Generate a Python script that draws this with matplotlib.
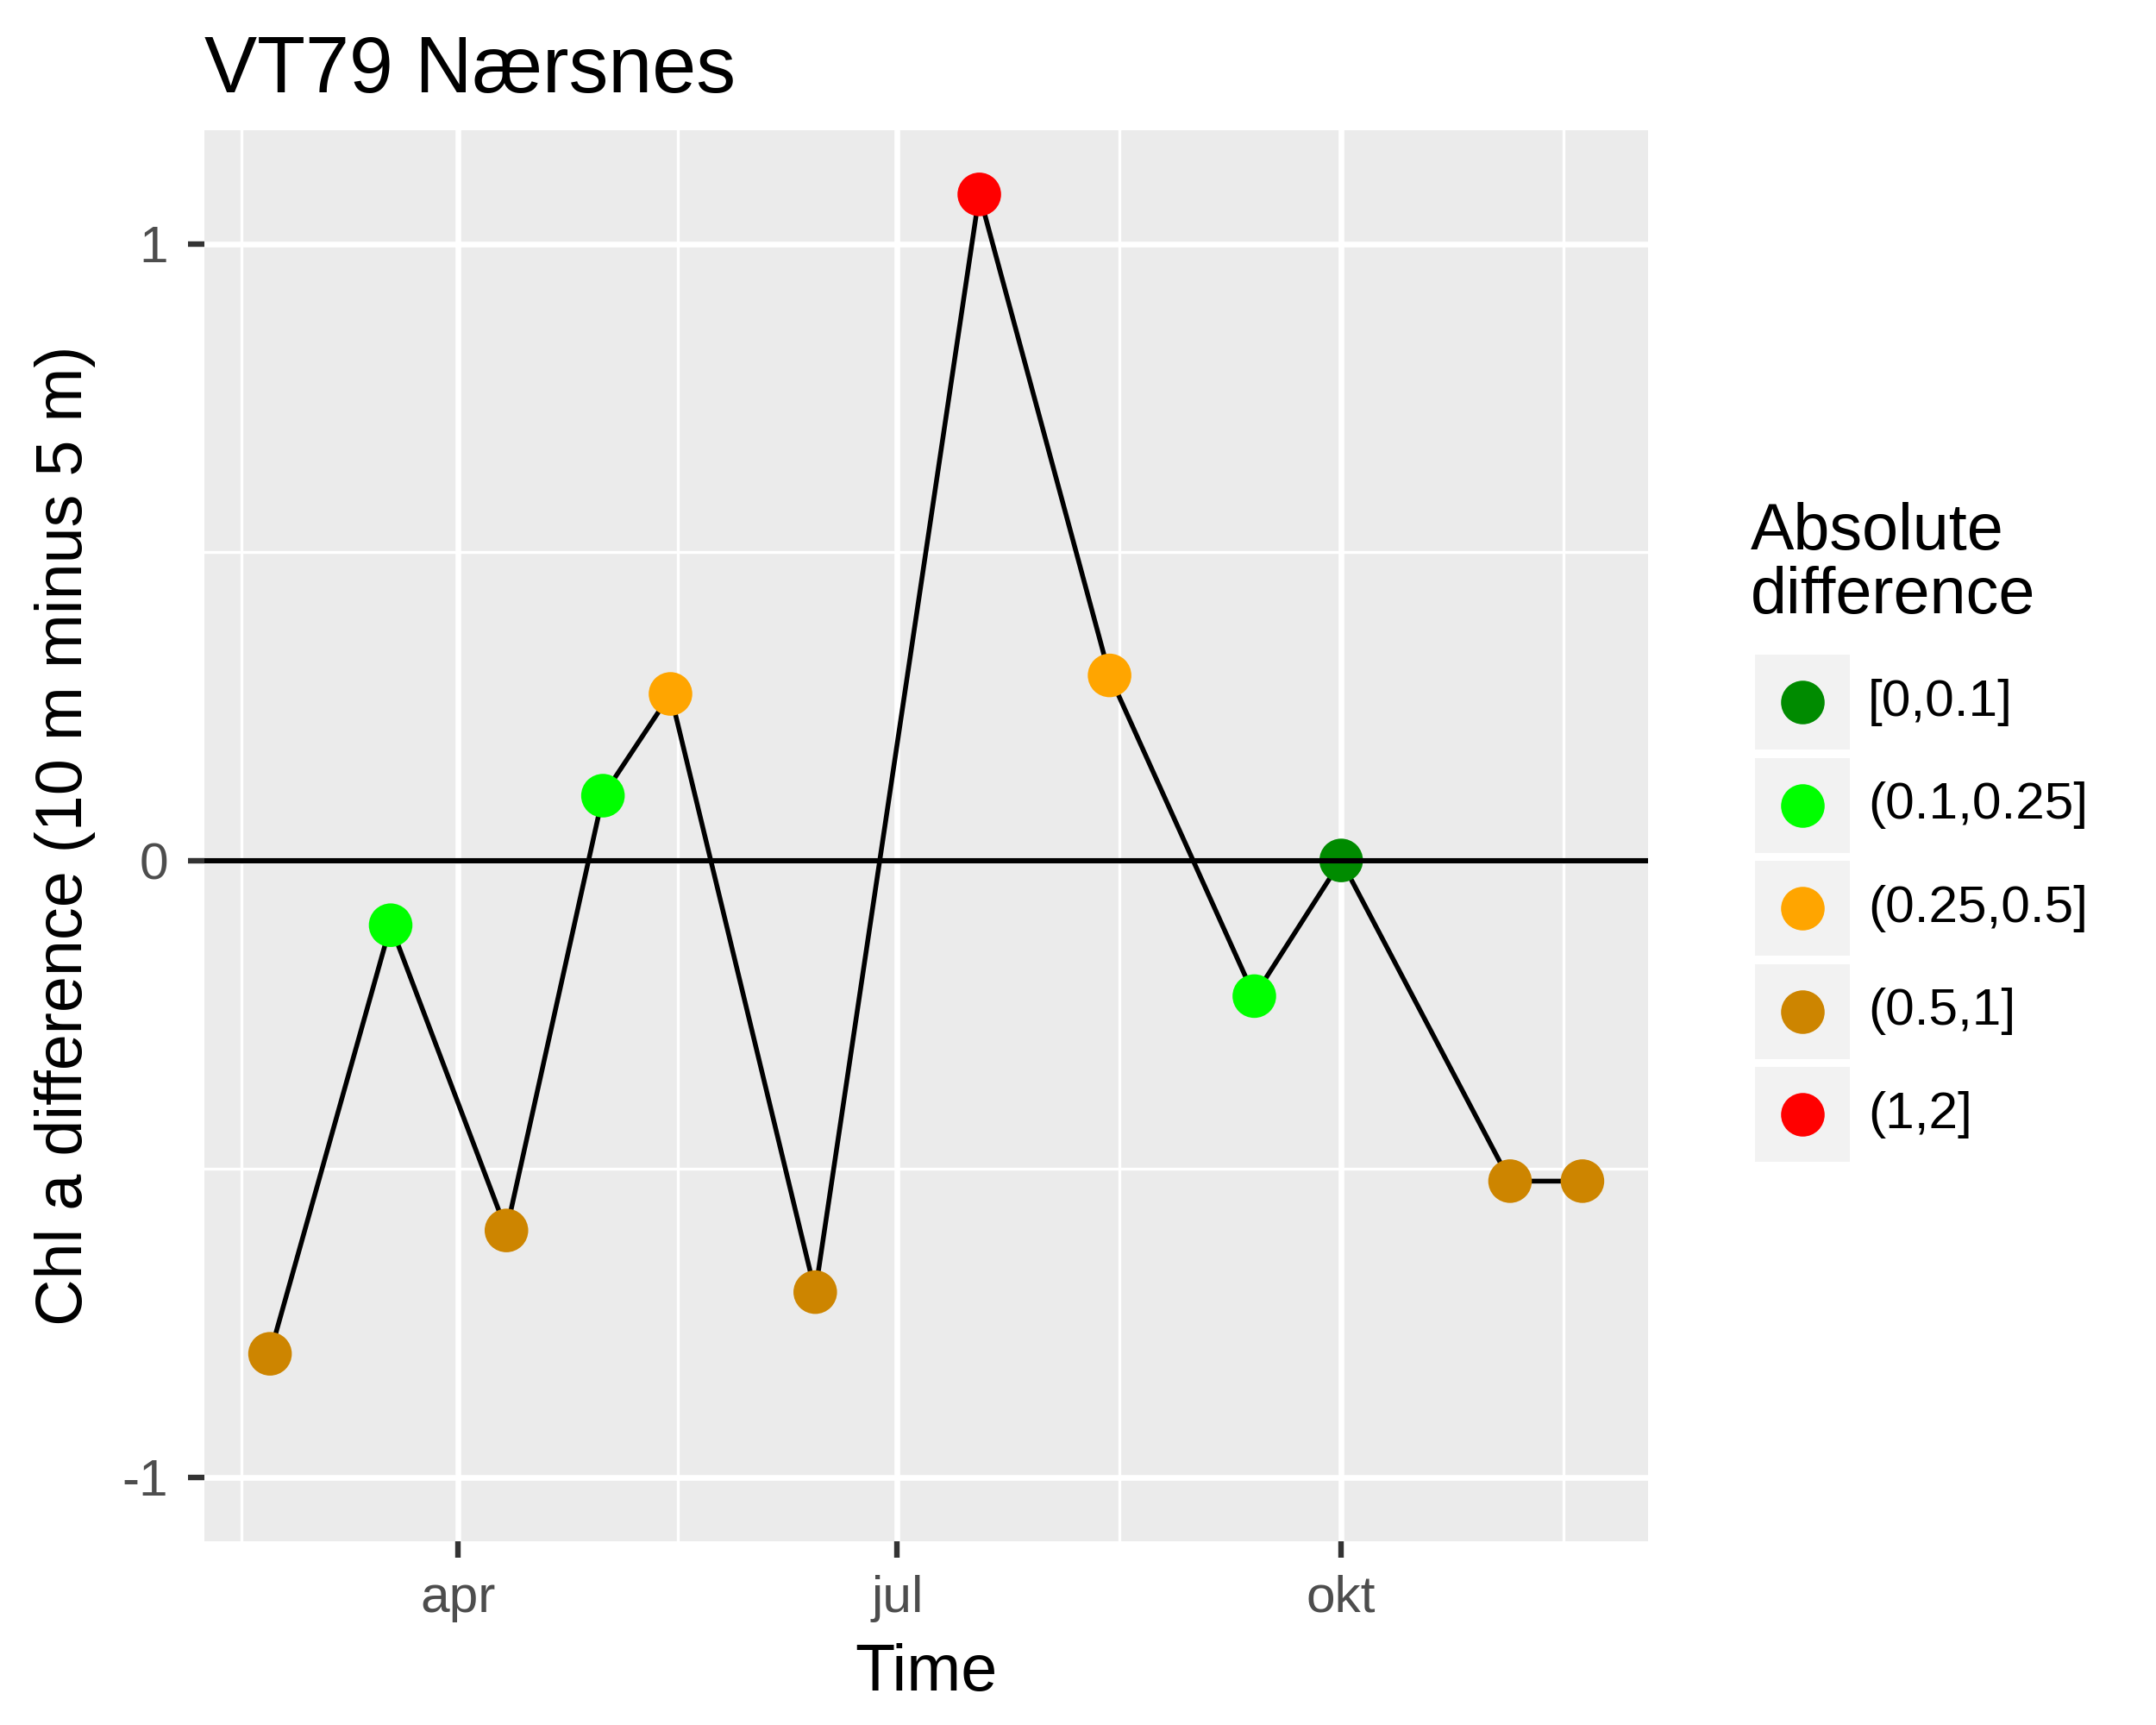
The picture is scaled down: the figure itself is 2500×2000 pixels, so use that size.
import numpy as np
import matplotlib
matplotlib.use('Agg')
import matplotlib.pyplot as plt
import matplotlib.dates as mdates
from matplotlib.patches import Rectangle

plt.rcParams['font.family'] = ['Liberation Sans', 'DejaVu Sans']

# ---- data ----
dates = np.array(['2017-02-21', '2017-03-18', '2017-04-11', '2017-05-01',
                  '2017-05-15', '2017-06-14', '2017-07-18', '2017-08-14',
                  '2017-09-13', '2017-10-01', '2017-11-05', '2017-11-20'],
                 dtype='datetime64[D]')
chl_diff = [-0.80, -0.105, -0.60, 0.105, 0.27, -0.70, 1.08, 0.30, -0.22, 0.0, -0.52, -0.52]

class_labels = ['[0,0.1]', '(0.1,0.25]', '(0.25,0.5]', '(0.5,1]', '(1,2]']
class_edges = [0, 0.1, 0.25, 0.5, 1, 2]
class_colors = ['#008B00', '#00FF00', '#FFA500', '#CD8500', '#FF0000']

tick_dates = np.array(['2017-04-01', '2017-07-01', '2017-10-01'], dtype='datetime64[D]')
tick_labels = ['apr', 'jul', 'okt']
y_ticks = [-1, 0, 1]
y_limits_extra = [-1, 1]   # expand_limits


def classify(v):
    a = abs(v)
    for i in range(len(class_labels)):
        if a <= class_edges[i + 1] + 1e-12:
            return i
    return len(class_labels) - 1


DPI = 200
BASE = 27.2
MS = 18.2
fig = plt.figure(figsize=(2500 / DPI, 2000 / DPI), dpi=DPI)
ax = fig.add_axes([0.0948, 0.1065, 0.7644 - 0.0948, 0.9245 - 0.1065])
ax.set_facecolor('#EBEBEB')
for s in ax.spines.values():
    s.set_visible(False)

x = mdates.date2num(dates)
y = np.array(chl_diff)

# limits with ggplot-style 5% expansion
xr = x.max() - x.min()
ax.set_xlim(x.min() - 0.05 * xr, x.max() + 0.05 * xr)
ylo = min(y.min(), min(y_limits_extra))
yhi = max(y.max(), max(y_limits_extra))
yr = yhi - ylo
ax.set_ylim(ylo - 0.05 * yr, yhi + 0.05 * yr)

# grid
tx = mdates.date2num(tick_dates)
jan1 = mdates.date2num(np.datetime64('2017-01-01'))
jan1n = mdates.date2num(np.datetime64('2018-01-01'))
allmaj = np.concatenate([[jan1], tx, [jan1n]])
minor_x = (allmaj[:-1] + allmaj[1:]) / 2
minor_y = (np.array(y_ticks[:-1]) + np.array(y_ticks[1:])) / 2
ax.set_xticks(tx)
ax.set_xticklabels(tick_labels)
ax.set_xticks(minor_x, minor=True)
ax.set_yticks(y_ticks)
ax.set_yticklabels([str(t) for t in y_ticks])
ax.set_yticks(minor_y, minor=True)
ax.grid(which='major', color='white', linewidth=2.4, zorder=0)
ax.grid(which='minor', color='white', linewidth=1.2, zorder=0)
ax.set_axisbelow(True)

ax.tick_params(which='major', length=6.8, width=2.3, color='#333333',
               labelsize=BASE * 0.8, labelcolor='#4D4D4D')
ax.tick_params(axis='x', which='major', pad=7.2)
ax.tick_params(axis='y', which='major', pad=8.2)
ax.tick_params(which='minor', length=0)

ax.plot(x, y, color='black', linewidth=2.0, zorder=3)
cols = [class_colors[classify(v)] for v in chl_diff]
ax.scatter(x, y, s=MS ** 2, c=cols, zorder=4, linewidths=0)
ax.axhline(0, color='black', linewidth=2.2, zorder=5)

ax.set_xlabel('Time', fontsize=BASE, labelpad=8.7)
ax.set_ylabel('Chl a difference (10 m minus 5 m)', fontsize=BASE, labelpad=11)
fig.text(0.0948, 0.9465, 'VT79 Nærsnes', fontsize=33, ha='left', va='baseline')

# legend drawn in pixel coordinates
lax = fig.add_axes([0, 0, 1, 1], facecolor='none')
lax.set_xlim(0, 2500)
lax.set_ylim(2000, 0)
lax.axis('off')
lax.text(2030, 582, 'Absolute\ndifference', fontsize=BASE, ha='left', va='top',
         linespacing=1.05)
key_w, key_h, key_step = 110, 110, 119.6
key_top = 759
for i, (lab, col) in enumerate(zip(class_labels, class_colors)):
    top = key_top + i * key_step
    lax.add_patch(Rectangle((2035, top), key_w, key_h, facecolor='#F2F2F2',
                            edgecolor='none'))
    lax.scatter([2035 + key_w / 2], [top + key_h / 2], s=MS ** 2, c=col,
                linewidths=0, zorder=3)
    lax.text(2166, top + key_h / 2, lab, fontsize=BASE * 0.8, ha='left',
             va='center')

fig.savefig('out.png', dpi=DPI, facecolor='white')
